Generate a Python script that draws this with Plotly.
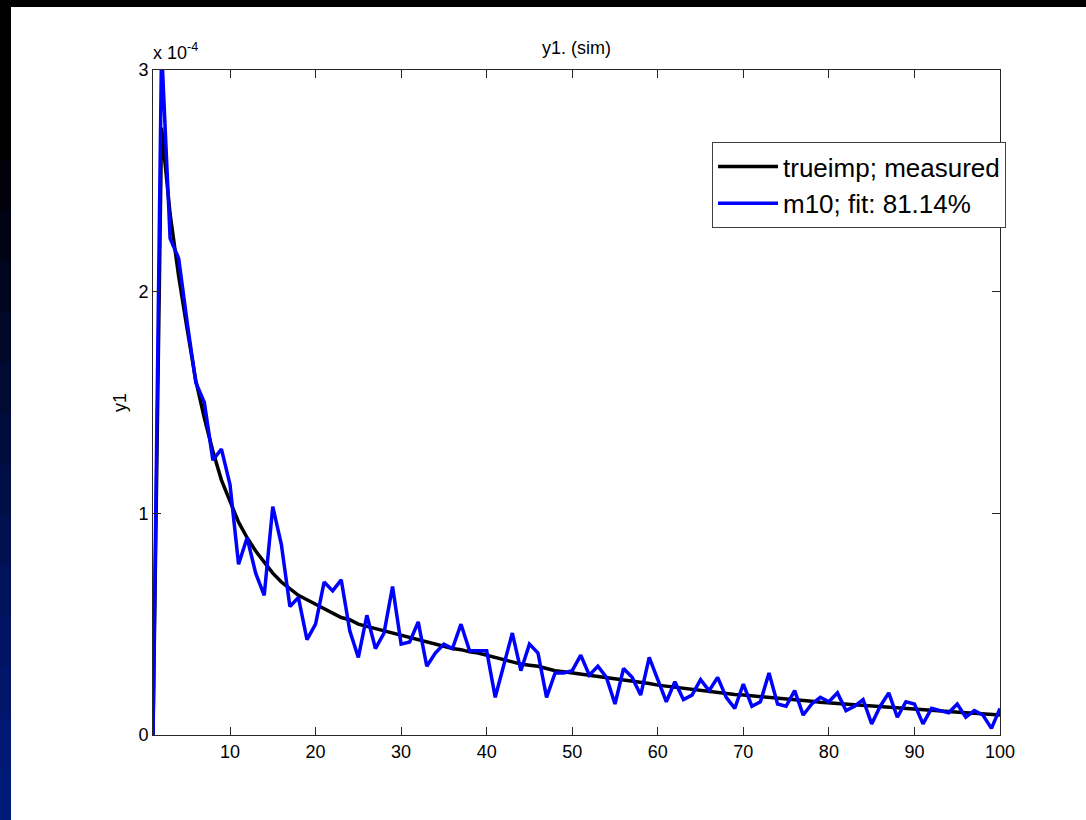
import plotly.graph_objects as go

# sample index
n = list(range(1, 101))

# values in units of 1e-4
trueimp = [0, 2.74, 2.35, 2.07, 1.83, 1.60, 1.43, 1.28, 1.15, 1.05,
           0.96, 0.89, 0.83, 0.78, 0.73, 0.69, 0.66, 0.63, 0.61, 0.59,
           0.57, 0.55, 0.53, 0.52, 0.50, 0.49, 0.48, 0.47, 0.46, 0.45,
           0.44, 0.43, 0.42, 0.41, 0.40, 0.39, 0.385, 0.375, 0.37, 0.36,
           0.35, 0.34, 0.33, 0.32, 0.315, 0.31, 0.30, 0.29, 0.285, 0.28,
           0.275, 0.27, 0.265, 0.26, 0.255, 0.25, 0.245, 0.24, 0.232, 0.225,
           0.22, 0.215, 0.21, 0.205, 0.20, 0.197, 0.193, 0.188, 0.183, 0.18,
           0.177, 0.173, 0.17, 0.166, 0.162, 0.158, 0.155, 0.152, 0.148, 0.145,
           0.142, 0.139, 0.136, 0.133, 0.13, 0.127, 0.124, 0.121, 0.119, 0.116,
           0.113, 0.111, 0.108, 0.106, 0.103, 0.100, 0.098, 0.095, 0.093, 0.090]

m10 = [0, 3.1, 2.24, 2.15, 1.86, 1.59, 1.50, 1.24, 1.29, 1.13,
       0.77, 0.89, 0.73, 0.63, 1.03, 0.86, 0.58, 0.62, 0.43, 0.50,
       0.69, 0.65, 0.70, 0.47, 0.35, 0.54, 0.39, 0.46, 0.67, 0.41,
       0.42, 0.51, 0.31, 0.37, 0.41, 0.39, 0.50, 0.38, 0.38, 0.38,
       0.17, 0.31, 0.46, 0.29, 0.41, 0.37, 0.17, 0.28, 0.28, 0.29,
       0.36, 0.27, 0.31, 0.26, 0.14, 0.30, 0.26, 0.18, 0.35, 0.25,
       0.15, 0.24, 0.16, 0.18, 0.25, 0.20, 0.26, 0.17, 0.12, 0.23,
       0.13, 0.15, 0.28, 0.14, 0.13, 0.20, 0.09, 0.14, 0.17, 0.15,
       0.19, 0.11, 0.13, 0.16, 0.05, 0.13, 0.19, 0.08, 0.15, 0.14,
       0.05, 0.12, 0.11, 0.10, 0.14, 0.08, 0.11, 0.09, 0.03, 0.12]

scale = 1e-4
x_ticks = [10, 20, 30, 40, 50, 60, 70, 80, 90, 100]
y_tick_labels = ["0", "1", "2", "3"]
y_ticks = [0, 1e-4, 2e-4, 3e-4]

names = ["trueimp; measured", "m10; fit: 81.14%"]

FONT = "Arial, 'Liberation Sans', sans-serif"

fig = go.Figure()
fig.add_trace(go.Scatter(x=n, y=[v * scale for v in trueimp], mode="lines",
                         name=names[0], line=dict(color="#000000", width=3.5)))
fig.add_trace(go.Scatter(x=n, y=[v * scale for v in m10], mode="lines",
                         name=names[1], line=dict(color="#0000ff", width=3.5)))

L, R, T, B = 153, 86, 70, 85
W, H = 1086, 820
PW, PH = W - L - R, H - T - B


def px(xp):
    return (xp - L) / PW


def py(yp):
    return (H - B - yp) / PH


shapes = []
# left strip gradient black -> navy (bands overlap slightly to avoid seams)
band_colors = ["#000000", "#000000", "#000000", "#00010a", "#000314", "#00051f",
               "#000829", "#000a33", "#000c3d", "#000e47", "#001051", "#00125b",
               "#001463", "#00166b", "#001872", "#001a78"]
top, bottom = 7, 820
nb = len(band_colors)
for i, c in enumerate(band_colors):
    y0p = top + (bottom - top) * i / nb
    y1p = top + (bottom - top) * (i + 1) / nb + 2
    shapes.append(dict(type="rect", xref="paper", yref="paper", x0=px(-1), x1=px(11),
                       y0=py(min(y1p, 821)), y1=py(y0p), fillcolor=c, line_width=0,
                       layer="below"))
# top black strip
shapes.append(dict(type="rect", xref="paper", yref="paper", x0=px(-1), x1=px(W + 1),
                   y0=py(7), y1=py(-1), fillcolor="#000000", line_width=0, layer="below"))

axis_common = dict(showline=True, linecolor="#262626", linewidth=1, mirror="ticks",
                   ticks="inside", ticklen=8, tickcolor="#262626", showgrid=False,
                   zeroline=False, tickfont=dict(family=FONT, size=18, color="#000000"))

fig.update_layout(
    width=W, height=H,
    margin=dict(l=L, r=R, t=T, b=B),
    paper_bgcolor="#ffffff", plot_bgcolor="#ffffff",
    showlegend=True,
    legend=dict(x=px(712), y=py(142), xanchor="left", yanchor="top",
                bgcolor="#ffffff", bordercolor="#404040", borderwidth=1,
                font=dict(family=FONT, size=26, color="#000000"),
                tracegroupgap=0, itemwidth=60),
    xaxis=dict(range=[1, 100], tickvals=x_ticks, **axis_common),
    yaxis=dict(range=[0, 3e-4], tickvals=y_ticks, ticktext=y_tick_labels, **axis_common),
    shapes=shapes,
    annotations=[
        dict(text="y1. (sim)", xref="paper", yref="paper", x=0.5, y=py(48),
             xanchor="center", yanchor="middle", showarrow=False,
             font=dict(family=FONT, size=18, color="#000000")),
        dict(text="y1", xref="paper", yref="paper", x=px(120), y=py(403),
             xanchor="center", yanchor="middle", showarrow=False, textangle=-90,
             font=dict(family=FONT, size=18, color="#000000")),
        dict(text="x 10<sup>-4</sup>", xref="paper", yref="paper", x=px(151), y=py(52),
             xanchor="left", yanchor="middle", showarrow=False,
             font=dict(family=FONT, size=18, color="#000000")),
    ],
)

fig.write_html("out.html", config={"displayModeBar": False},
               post_script="document.body.style.margin='0';")
